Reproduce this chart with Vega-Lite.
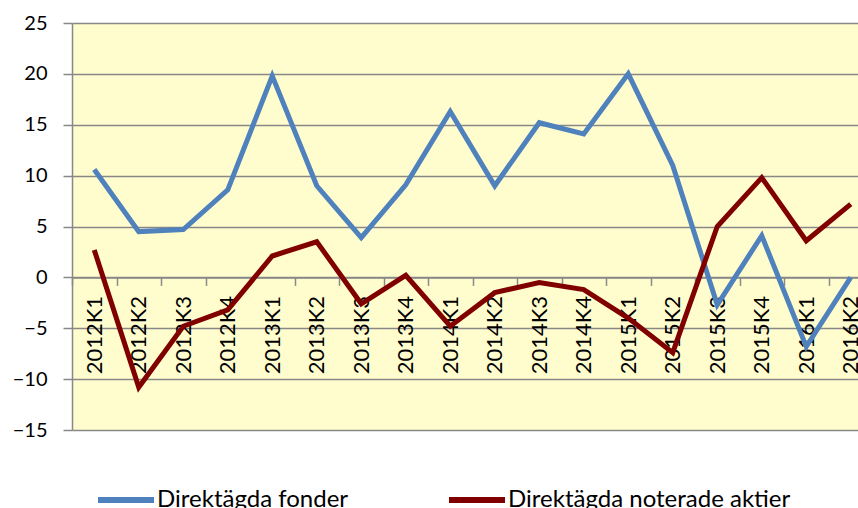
{
  "$schema": "https://vega.github.io/schema/vega-lite/v6.json",
  "autosize": {"type": "none"},
  "width": 786,
  "height": 407,
  "padding": {"left": 72, "top": 23, "right": 0, "bottom": 78},
  "background": "white",
  "config": {
    "view": {"fill": "#FFFDCE", "stroke": null},
    "font": "Lato"
  },
  "data": {
    "values": [
      {"q": "2012K1", "s": "Direktägda fonder", "v": 10.6},
      {"q": "2012K2", "s": "Direktägda fonder", "v": 4.5},
      {"q": "2012K3", "s": "Direktägda fonder", "v": 4.7},
      {"q": "2012K4", "s": "Direktägda fonder", "v": 8.6},
      {"q": "2013K1", "s": "Direktägda fonder", "v": 19.8},
      {"q": "2013K2", "s": "Direktägda fonder", "v": 9.0},
      {"q": "2013K3", "s": "Direktägda fonder", "v": 3.9},
      {"q": "2013K4", "s": "Direktägda fonder", "v": 9.1},
      {"q": "2014K1", "s": "Direktägda fonder", "v": 16.3},
      {"q": "2014K2", "s": "Direktägda fonder", "v": 9.0},
      {"q": "2014K3", "s": "Direktägda fonder", "v": 15.2},
      {"q": "2014K4", "s": "Direktägda fonder", "v": 14.1},
      {"q": "2015K1", "s": "Direktägda fonder", "v": 20.0},
      {"q": "2015K2", "s": "Direktägda fonder", "v": 11.0},
      {"q": "2015K3", "s": "Direktägda fonder", "v": -2.7},
      {"q": "2015K4", "s": "Direktägda fonder", "v": 4.1},
      {"q": "2016K1", "s": "Direktägda fonder", "v": -6.8},
      {"q": "2016K2", "s": "Direktägda fonder", "v": 0.0},
      {"q": "2012K1", "s": "Direktägda noterade aktier", "v": 2.7},
      {"q": "2012K2", "s": "Direktägda noterade aktier", "v": -10.8},
      {"q": "2012K3", "s": "Direktägda noterade aktier", "v": -4.8},
      {"q": "2012K4", "s": "Direktägda noterade aktier", "v": -3.2},
      {"q": "2013K1", "s": "Direktägda noterade aktier", "v": 2.1},
      {"q": "2013K2", "s": "Direktägda noterade aktier", "v": 3.5},
      {"q": "2013K3", "s": "Direktägda noterade aktier", "v": -2.6},
      {"q": "2013K4", "s": "Direktägda noterade aktier", "v": 0.2},
      {"q": "2014K1", "s": "Direktägda noterade aktier", "v": -4.8},
      {"q": "2014K2", "s": "Direktägda noterade aktier", "v": -1.5},
      {"q": "2014K3", "s": "Direktägda noterade aktier", "v": -0.5},
      {"q": "2014K4", "s": "Direktägda noterade aktier", "v": -1.2},
      {"q": "2015K1", "s": "Direktägda noterade aktier", "v": -4.0},
      {"q": "2015K2", "s": "Direktägda noterade aktier", "v": -7.4},
      {"q": "2015K3", "s": "Direktägda noterade aktier", "v": 5.0},
      {"q": "2015K4", "s": "Direktägda noterade aktier", "v": 9.8},
      {"q": "2016K1", "s": "Direktägda noterade aktier", "v": 3.6},
      {"q": "2016K2", "s": "Direktägda noterade aktier", "v": 7.2}
    ]
  },
  "mark": {"type": "line", "strokeWidth": 5, "strokeJoin": "miter", "clip": false},
  "encoding": {
    "x": {
      "field": "q",
      "type": "ordinal",
      "sort": null,
      "scale": {"type": "band", "paddingInner": 0, "paddingOuter": 0, "range": [0, 801]},
      "axis": {
        "title": null,
        "labelAngle": -90,
        "labelAlign": "right",
        "labelBaseline": "middle",
        "labelFontSize": 22,
        "labelColor": "#000000",
        "labelPadding": 10,
        "tickBand": "extent",
        "tickSize": 8,
        "tickColor": "#888888",
        "tickWidth": 1.5,
        "domainColor": "#888888",
        "domainWidth": 1.5,
        "grid": false,
        "offset": -152.625
      }
    },
    "y": {
      "field": "v",
      "type": "quantitative",
      "scale": {"domain": [-15, 25], "nice": false, "zero": false},
      "axis": {
        "title": null,
        "values": [-15, -10, -5, 0, 5, 10, 15, 20, 25],
        "labelFontSize": 20,
        "labelColor": "#000000",
        "labelPadding": 16,
        "tickSize": 9,
        "tickColor": "#888888",
        "tickWidth": 1.5,
        "domainColor": "#888888",
        "domainWidth": 1.5,
        "grid": true,
        "gridColor": "#888888",
        "gridWidth": 1.5,
        "gridOpacity": 1
      }
    },
    "color": {
      "field": "s",
      "type": "nominal",
      "scale": {"domain": ["Direktägda fonder", "Direktägda noterade aktier"], "range": ["#4F81BD", "#800000"]},
      "legend": {
        "title": null,
        "orient": "none",
        "direction": "horizontal",
        "legendX": 23,
        "legendY": 446,
        "symbolType": "stroke",
        "symbolStrokeWidth": 6,
        "symbolSize": 3136,
        "labelFontSize": 24,
        "labelColor": "#000000",
        "labelOffset": 0,
        "columnPadding": 88,
        "labelLimit": 400
      }
    }
  }
}
